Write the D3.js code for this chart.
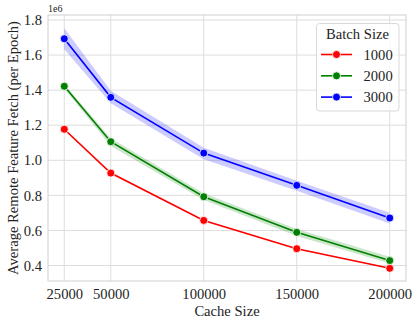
<!DOCTYPE html>
<html><head><meta charset="utf-8">
<script src="https://cdn.jsdelivr.net/npm/d3@7"></script>
<style>body{margin:0;background:#fff}svg{display:block}text{font-family:"Liberation Serif","Times New Roman",serif;fill:#222}</style>
</head><body><svg id="c" width="419" height="325"></svg>
<script>
const cacheSizes = [25000, 50000, 100000, 150000, 200000];
const batchSizes = ["1000", "2000", "3000"];
const colors = ["#ff0000", "#008000", "#0000ff"];
const mean1000 = [1.177, 0.927, 0.657, 0.496, 0.384];
const mean2000 = [1.422, 1.106, 0.792, 0.589, 0.428];
const mean3000 = [1.693, 1.359, 1.041, 0.857, 0.671];
const lo1000 = [1.172, 0.923, 0.654, 0.493, 0.381];
const hi1000 = [1.182, 0.931, 0.660, 0.499, 0.387];
const lo2000 = [1.410, 1.081, 0.773, 0.568, 0.412];
const hi2000 = [1.434, 1.125, 0.812, 0.608, 0.450];
const lo3000 = [1.633, 1.325, 1.006, 0.826, 0.640];
const hi3000 = [1.753, 1.397, 1.072, 0.883, 0.701];
const yTicks = [0.4, 0.6, 0.8, 1.0, 1.2, 1.4, 1.6, 1.8];

const series = [
  {name: batchSizes[0], color: colors[0], mean: mean1000, lo: lo1000, hi: hi1000},
  {name: batchSizes[1], color: colors[1], mean: mean2000, lo: lo2000, hi: hi2000},
  {name: batchSizes[2], color: colors[2], mean: mean3000, lo: lo3000, hi: hi3000}
];

const svg = d3.select("#c");
const L = 48, R = 406, T = 15, B = 281;
const x = d3.scaleLinear().domain([16250, 208750]).range([L, R]);
const y = d3.scaleLinear().domain([0.3116, 1.8285]).range([B, T]);
const fs = 14.6;
const ff = '"Liberation Serif","Times New Roman",serif';

// grid
const g = svg.append("g");
g.selectAll(".gx").data(cacheSizes).join("line")
  .attr("x1", d => x(d)).attr("x2", d => x(d)).attr("y1", T).attr("y2", B)
  .attr("stroke", "#dddddd").attr("stroke-width", 1);
g.selectAll(".gy").data(yTicks).join("line")
  .attr("y1", d => y(d)).attr("y2", d => y(d)).attr("x1", L).attr("x2", R)
  .attr("stroke", "#dddddd").attr("stroke-width", 1);
g.append("rect").attr("x", L).attr("y", T).attr("width", R - L).attr("height", B - T)
  .attr("fill", "none").attr("stroke", "#d0d0d0").attr("stroke-width", 1);

// axes
const xAxis = d3.axisBottom(x).tickValues(cacheSizes).tickFormat(d3.format("d")).tickSize(0).tickPadding(8);
const ax = svg.append("g").attr("transform", `translate(0,${B})`).call(xAxis).attr("font-family", ff);
ax.select(".domain").remove();
ax.selectAll("text").attr("font-size", fs).style("font-family", ff).attr("fill", "#222");
const yAxis = d3.axisLeft(y).tickValues(yTicks).tickFormat(d3.format(".1f")).tickSize(0).tickPadding(6);
const ay = svg.append("g").attr("transform", `translate(${L},0)`).call(yAxis).attr("font-family", ff);
ay.select(".domain").remove();
ay.selectAll("text").attr("font-size", fs).style("font-family", ff).attr("fill", "#222");

svg.append("text").attr("x", L).attr("y", 12).attr("font-size", 10).text("1e6");
svg.append("text").attr("x", (L + R) / 2).attr("y", 316).attr("text-anchor", "middle").attr("font-size", fs).text("Cache Size");
svg.append("text").attr("transform", `translate(17.5,${(T + B) / 2}) rotate(-90)`).attr("text-anchor", "middle").attr("font-size", fs).text("Average Remote Feature Fetch (per Epoch)");

// bands, lines, markers
const area = d3.area().x((d, i) => x(cacheSizes[i])).y0(d => y(d[0])).y1(d => y(d[1]));
const line = d3.line().x((d, i) => x(cacheSizes[i])).y(d => y(d));
series.forEach(s => {
  const band = s.lo.map((v, i) => [v, s.hi[i]]);
  svg.append("path").attr("d", area(band)).attr("fill", s.color).attr("fill-opacity", 0.2);
});
series.forEach(s => {
  svg.append("path").attr("d", line(s.mean)).attr("fill", "none").attr("stroke", s.color).attr("stroke-width", 1.6);
  svg.selectAll(null).data(s.mean).join("circle")
    .attr("cx", (d, i) => x(cacheSizes[i])).attr("cy", d => y(d)).attr("r", 4)
    .attr("fill", s.color).attr("stroke", "#fff").attr("stroke-width", 0.8);
});

// legend
const lg = svg.append("g");
lg.append("rect").attr("x", 316.5).attr("y", 23.5).attr("width", 82.5).attr("height", 87.5).attr("rx", 3)
  .attr("fill", "#fff").attr("fill-opacity", 0.8).attr("stroke", "#d8d8d8").attr("stroke-width", 1);
lg.append("text").attr("x", 357.5).attr("y", 39).attr("text-anchor", "middle").attr("font-size", fs).text("Batch Size");
series.forEach((s, i) => {
  const cy = 54.5 + i * 21.3;
  lg.append("line").attr("x1", 321).attr("x2", 352).attr("y1", cy).attr("y2", cy).attr("stroke", s.color).attr("stroke-width", 1.6);
  lg.append("circle").attr("cx", 336.5).attr("cy", cy).attr("r", 4).attr("fill", s.color).attr("stroke", "#fff").attr("stroke-width", 0.8);
  lg.append("text").attr("x", 363.5).attr("y", cy + 5).attr("font-size", fs).text(s.name);
});
</script></body></html>
